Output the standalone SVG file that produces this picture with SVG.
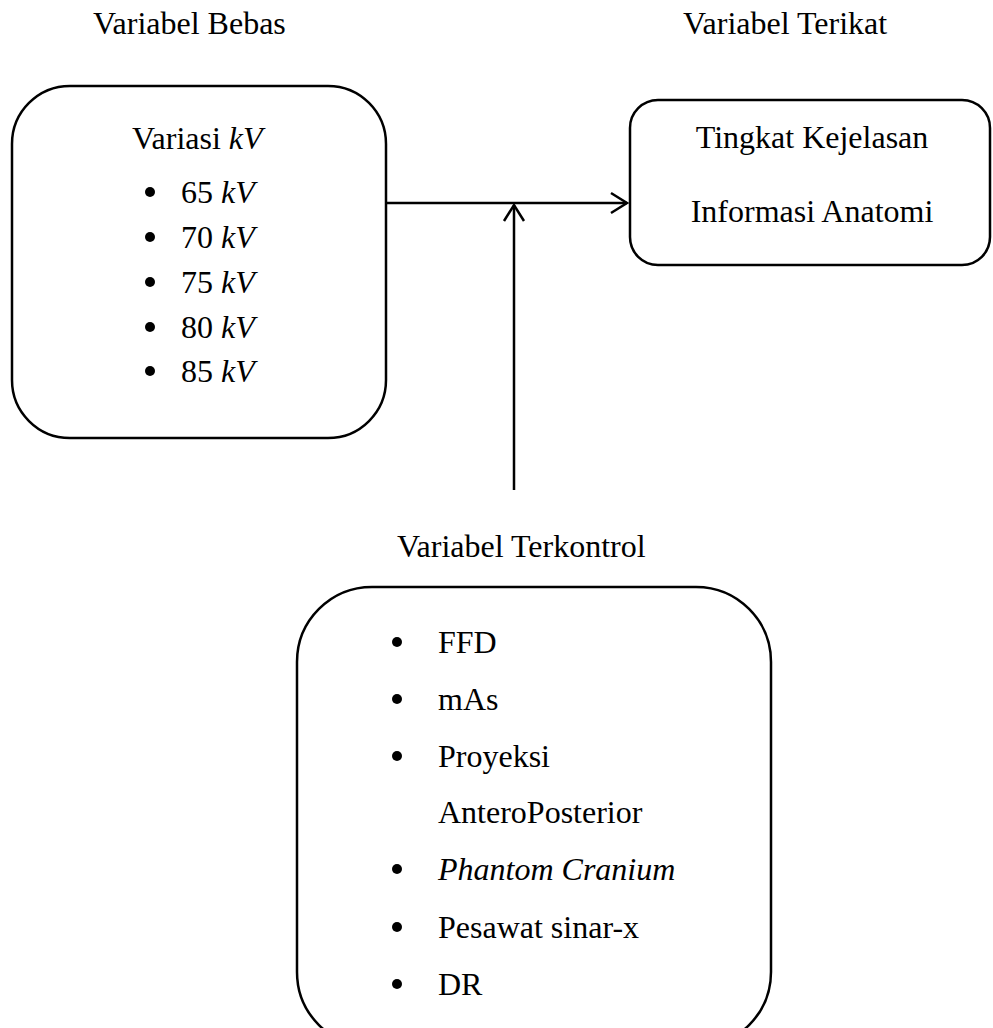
<svg xmlns="http://www.w3.org/2000/svg" width="993" height="1028" viewBox="0 0 993 1028">
<style>
text{font-family:"Liberation Serif","Times New Roman",serif;font-size:32px;fill:#000}
.it{font-style:italic}
.box{fill:#fff;stroke:#000;stroke-width:2.5}
.conn{stroke:#000;stroke-width:2.5;fill:none}
</style>
<defs>
<marker id="arr" viewBox="-20 -12 24 24" markerWidth="24" markerHeight="24" refX="0" refY="0" orient="auto" markerUnits="userSpaceOnUse">
<path d="M-16,-10 L0,0 L-16,10" fill="none" stroke="#000" stroke-width="2.5"/>
</marker>
</defs>
<g id="labels">
<text x="93" y="34">Variabel Bebas</text>
<text x="683" y="34">Variabel Terikat</text>
<text x="397" y="557">Variabel Terkontrol</text>
</g>
<g id="connectors">
<line class="conn" x1="387" y1="203" x2="627" y2="203" marker-end="url(#arr)"/>
<line class="conn" x1="514" y1="490" x2="514" y2="205" marker-end="url(#arr)"/>
</g>
<g id="node-bebas">
<rect class="box" x="12" y="86" width="374" height="352" rx="58" ry="58"/>
<text x="132" y="149">Variasi <tspan class="it">kV</tspan></text>
<g>
<circle cx="150" cy="192" r="5"/><text x="181" y="203">65 <tspan class="it">kV</tspan></text>
<circle cx="150" cy="237" r="5"/><text x="181" y="248">70 <tspan class="it">kV</tspan></text>
<circle cx="150" cy="282" r="5"/><text x="181" y="293">75 <tspan class="it">kV</tspan></text>
<circle cx="150" cy="327" r="5"/><text x="181" y="338">80 <tspan class="it">kV</tspan></text>
<circle cx="150" cy="371" r="5"/><text x="181" y="382">85 <tspan class="it">kV</tspan></text>
</g>
</g>
<g id="node-terikat">
<rect class="box" x="630" y="100" width="360" height="165" rx="28" ry="28"/>
<text x="812" y="148" text-anchor="middle">Tingkat Kejelasan</text>
<text x="812" y="222" text-anchor="middle">Informasi Anatomi</text>
</g>
<g id="node-terkontrol">
<rect class="box" x="297" y="587" width="474" height="460" rx="75" ry="75"/>
<circle cx="397" cy="642" r="5"/><text x="438" y="653">FFD</text>
<circle cx="397" cy="699" r="5"/><text x="438" y="710">mAs</text>
<circle cx="397" cy="756" r="5"/><text x="438" y="767">Proyeksi</text>
<text x="438" y="823">AnteroPosterior</text>
<circle cx="397" cy="869" r="5"/><text x="438" y="880" class="it">Phantom Cranium</text>
<circle cx="397" cy="927" r="5"/><text x="438" y="938">Pesawat sinar-x</text>
<circle cx="397" cy="984" r="5"/><text x="438" y="995">DR</text>
</g>
</svg>
